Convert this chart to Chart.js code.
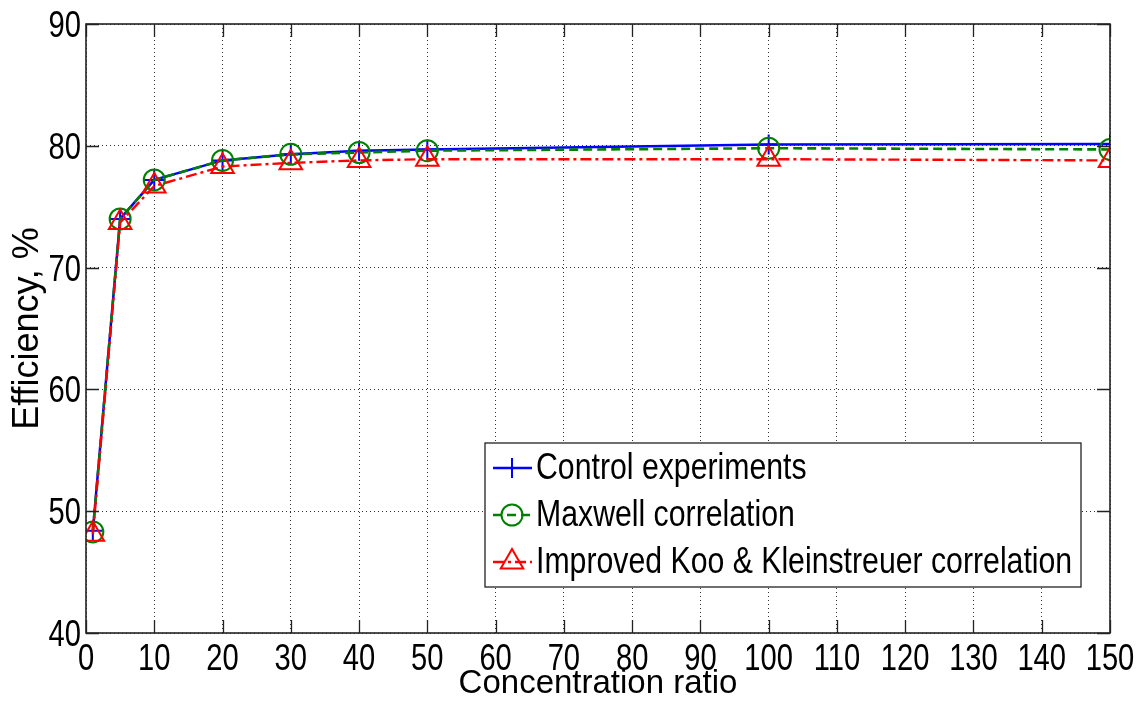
<!DOCTYPE html>
<html>
<head>
<meta charset="utf-8">
<title>Efficiency vs concentration ratio</title>
<script src="https://cdn.jsdelivr.net/npm/chart.js@4.4.1/dist/chart.umd.min.js"></script>
<style>
  html, body { margin: 0; padding: 0; background: #fff; }
  #wrap { width: 1143px; height: 713px; position: relative; }
</style>
</head>
<body>
<div id="wrap"><canvas id="chart"></canvas></div>
<script>
/* ================= DATA ================= */
const ratios   = [1, 5, 10, 20, 30, 40, 50, 100, 150];
const control  = [48.4, 74.0, 77.2, 78.8, 79.3, 79.6, 79.7, 80.1, 80.15];
const maxwell  = [48.3, 74.0, 77.2, 78.8, 79.3, 79.45, 79.6, 79.8, 79.7];
const improved = [48.1, 73.7, 76.7, 78.3, 78.6, 78.8, 78.9, 78.9, 78.8];

const xTicks = [0, 10, 20, 30, 40, 50, 60, 70, 80, 90, 100, 110, 120, 130, 140, 150];
const yTicks = [40, 50, 60, 70, 80, 90];

const seriesNames = [
    "Control experiments",
    "Maxwell correlation",
    "Improved Koo & Kleinstreuer correlation"
];
const xTitle = "Concentration ratio";
const yTitle = "Efficiency, %";

const SANS = "'Liberation Sans', Arial, sans-serif";

function pts(ys){
    return ratios.map((x, i) => ({ x: x, y: ys[i] }));
}

// narrow-looking text: normal font squeezed horizontally
function squeezedText(ctx, txt, x, y, align, k){
    ctx.save();
    ctx.translate(x, y);
    ctx.scale(k, 1);
    ctx.textAlign = align;
    ctx.fillText(txt, 0, 0);
    ctx.restore();
}

/* ================= FRAME, INSIDE TICKS, TICK LABELS ================= */
const framePlugin = {
    id: "frame",
    afterDatasetsDraw(chart){
        const ctx = chart.ctx;
        const a = chart.chartArea;
        const xs = chart.scales.x, ys = chart.scales.y;
        const len = 13;
        ctx.save();
        ctx.strokeStyle = "#222";
        ctx.lineWidth = 1.3;
        ctx.setLineDash([]);
        ctx.beginPath();
        xs.ticks.forEach(t => {
            const px = Math.round(xs.getPixelForValue(t.value)) + 0.5;
            ctx.moveTo(px, a.bottom); ctx.lineTo(px, a.bottom - len);
            ctx.moveTo(px, a.top);    ctx.lineTo(px, a.top + len);
        });
        ys.ticks.forEach(t => {
            const py = Math.round(ys.getPixelForValue(t.value)) + 0.5;
            ctx.moveTo(a.left, py);  ctx.lineTo(a.left + len, py);
            ctx.moveTo(a.right, py); ctx.lineTo(a.right - len, py);
        });
        ctx.stroke();
        ctx.lineWidth = 1.6;
        ctx.strokeRect(a.left, a.top, a.right - a.left, a.bottom - a.top);

        // tick labels
        ctx.fillStyle = "#000";
        ctx.font = "36px " + SANS;
        ctx.textBaseline = "alphabetic";
        xTicks.forEach(v => {
            squeezedText(ctx, String(v), xs.getPixelForValue(v), a.bottom + 37, "center", 0.81);
        });
        yTicks.forEach(v => {
            squeezedText(ctx, String(v), a.left - 5, ys.getPixelForValue(v) + 13, "right", 0.81);
        });
        ctx.restore();
    }
};

/* ================= LEGEND BOX ================= */
const legendPlugin = {
    id: "boxLegend",
    afterDraw(chart){
        const ctx = chart.ctx;
        const a = chart.chartArea;
        const bx = a.left + 399, by = a.top + 419, bw = 596, bh = 144;
        ctx.save();
        ctx.fillStyle = "#fff";
        ctx.fillRect(bx, by, bw, bh);
        ctx.strokeStyle = "#222";
        ctx.lineWidth = 1.3;
        ctx.strokeRect(bx, by, bw, bh);

        chart.data.datasets.slice().sort((p, q) => p.legendIndex - q.legendIndex).forEach((ds, i) => {
            const cy = by + 25 + i * 47;
            ctx.strokeStyle = ds.borderColor;
            ctx.lineWidth = ds.borderWidth;
            ctx.setLineDash(ds.borderDash || []);
            ctx.beginPath();
            ctx.moveTo(bx + 8, cy);
            ctx.lineTo(bx + 47, cy);
            ctx.stroke();
            ctx.setLineDash([]);
            ctx.lineWidth = ds.pointBorderWidth;
            ctx.strokeStyle = ds.pointBorderColor;
            ctx.fillStyle = "rgba(0,0,0,0)";
            Chart.helpers.drawPoint(ctx, {
                pointStyle: ds.pointStyle,
                radius: ds.pointRadius,
                rotation: 0,
                borderWidth: ds.pointBorderWidth
            }, bx + 27, cy);
            ctx.fillStyle = "#000";
            ctx.font = "36px " + SANS;
            ctx.textBaseline = "middle";
            squeezedText(ctx, ds.label, bx + 51, cy + 1, "left", 0.84);
        });
        ctx.restore();
    }
};

/* ================= CHART ================= */
function drawChart(){
    const ctx = document.getElementById("chart");
    new Chart(ctx, {
        type: "line",
        data: {
            datasets: [
                {
                    label: seriesNames[0], legendIndex: 0, order: 2,
                    data: pts(control),
                    borderColor: "#0000ff", backgroundColor: "#0000ff",
                    borderWidth: 2.5,
                    pointStyle: "cross", pointRadius: 10, pointBorderWidth: 2,
                    pointBorderColor: "#0000ff"
                },
                {
                    label: seriesNames[1], legendIndex: 1, order: 1,
                    data: pts(maxwell),
                    borderColor: "#008000", backgroundColor: "rgba(0,0,0,0)",
                    borderWidth: 2.6, borderDash: [9, 5],
                    pointStyle: "circle", pointRadius: 10.5, pointBorderWidth: 2,
                    pointBorderColor: "#008000", pointBackgroundColor: "rgba(0,0,0,0)"
                },
                {
                    label: seriesNames[2], legendIndex: 2, order: 0,
                    data: pts(improved),
                    borderColor: "#ff0000", backgroundColor: "rgba(0,0,0,0)",
                    borderWidth: 2.4, borderDash: [11, 4, 3, 4],
                    pointStyle: "triangle", pointRadius: 13, pointBorderWidth: 2,
                    pointBorderColor: "#ff0000", pointBackgroundColor: "rgba(0,0,0,0)"
                }
            ]
        },
        options: {
            responsive: true,
            maintainAspectRatio: false,
            animation: false,
            devicePixelRatio: 1,
            layout: { padding: { left: 0, right: 33, top: 24, bottom: 0 } },
            plugins: {
                legend: { display: false },
                tooltip: { enabled: false }
            },
            elements: { line: { tension: 0, fill: false } },
            scales: {
                x: {
                    type: "linear",
                    min: 0, max: 150,
                    afterFit: s => { s.height = 80; },
                    ticks: { stepSize: 10, display: false },
                    grid: { color: "#333", lineWidth: 1, drawTicks: false },
                    border: { display: false, dash: [1, 3] },
                    title: {
                        display: true, text: xTitle, color: "#000",
                        font: { family: SANS, size: 33 },
                        padding: { top: 0, bottom: 9 }
                    }
                },
                y: {
                    min: 40, max: 90,
                    afterFit: s => { s.width = 86; },
                    ticks: { stepSize: 10, display: false },
                    grid: { color: "#333", lineWidth: 1, drawTicks: false },
                    border: { display: false, dash: [1, 3] },
                    title: {
                        display: true, text: yTitle, color: "#000",
                        font: { family: SANS, size: 36 },
                        padding: { top: 6, bottom: 0 }
                    }
                }
            }
        },
        plugins: [framePlugin, legendPlugin]
    });
}

/* ================= INIT ================= */
document.fonts.load("36px 'Liberation Sans'").then(drawChart, drawChart);
</script>
</body>
</html>
